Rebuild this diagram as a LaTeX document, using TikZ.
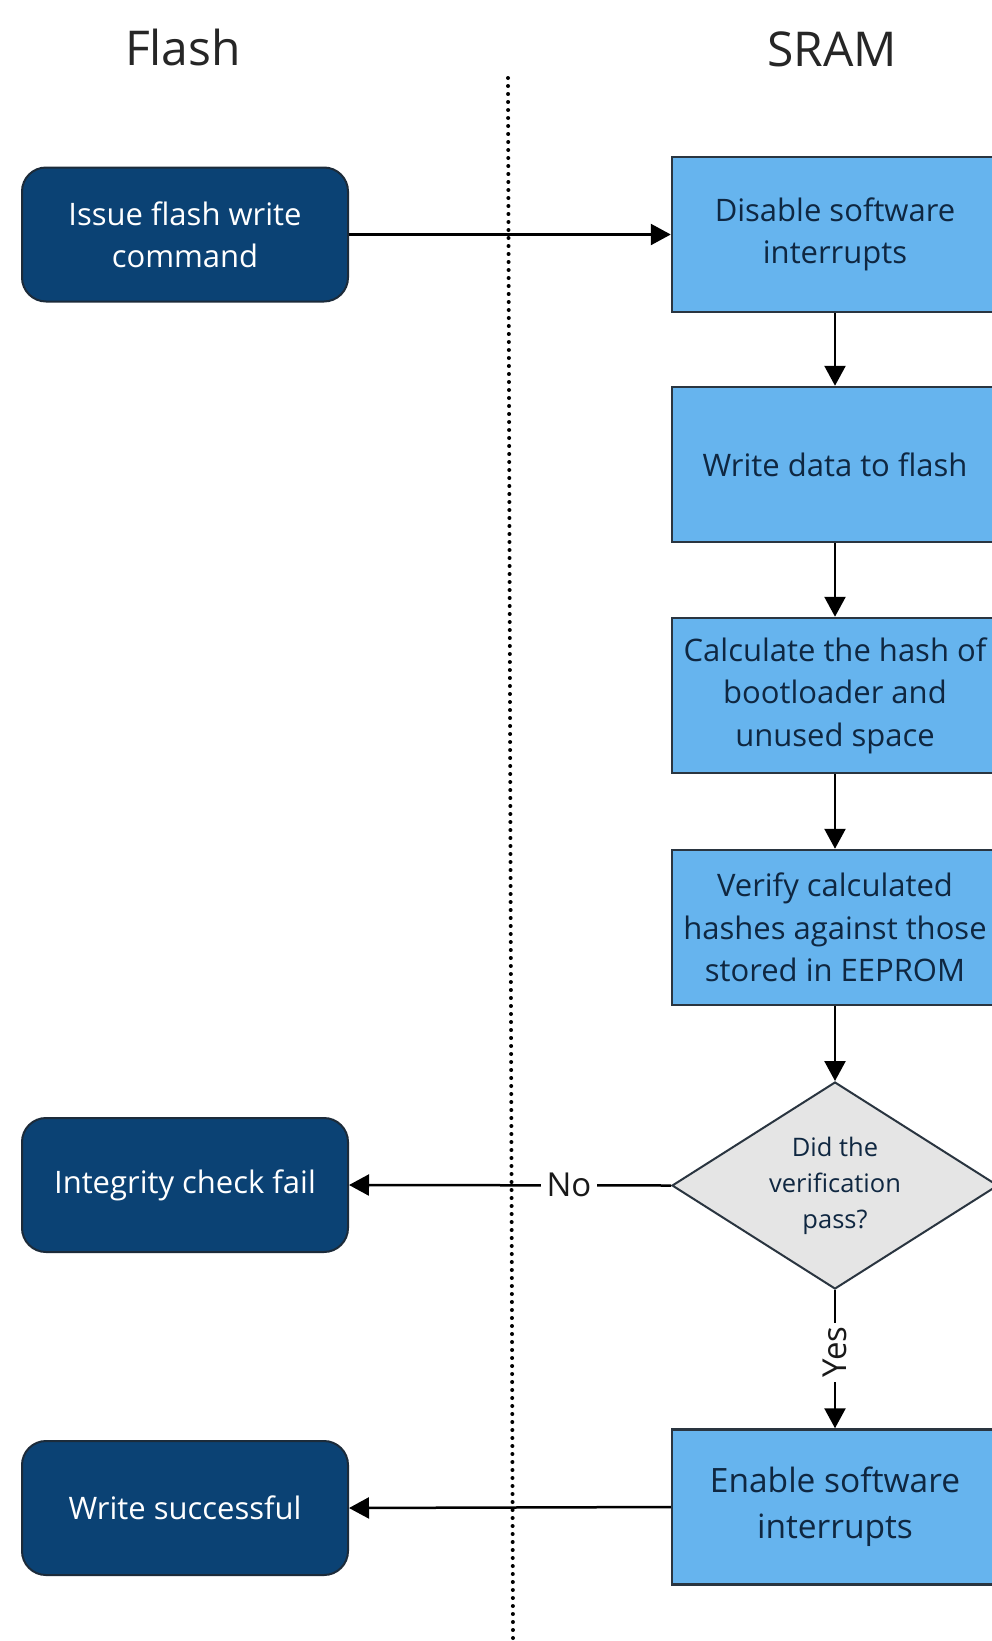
\documentclass[tikz,border=0pt]{standalone}
\usepackage{fontspec}
\setmainfont{Open Sans}
\usetikzlibrary{shapes.geometric,arrows.meta}
\definecolor{darkbox}{HTML}{0B4274}
\definecolor{darkedge}{HTML}{1C2B3A}
\definecolor{lightbox}{HTML}{66B4EE}
\definecolor{lightedge}{HTML}{2A3540}
\definecolor{navytext}{HTML}{0F2741}
\definecolor{diafill}{HTML}{E5E5E5}
\begin{document}
\begin{tikzpicture}[x=1pt,y=-1pt,
  flashbox/.style={rectangle, rounded corners=24pt, draw=darkedge, line width=2pt, fill=darkbox, text=white,
    minimum width=326pt, minimum height=134pt, align=center, inner sep=0pt, font=\fontsize{31}{42}\selectfont},
  srambox/.style={rectangle, draw=lightedge, line width=2.5pt, fill=lightbox, text=navytext,
    minimum width=326pt, minimum height=155pt, align=center, inner sep=0pt, font=\fontsize{31}{42.5}\selectfont},
  decision/.style={diamond, draw=lightedge, line width=2pt, fill=diafill, text=navytext, aspect=1.575,
    minimum width=326pt, minimum height=207pt, inner sep=0pt, align=center, font=\fontsize{25.5}{36}\selectfont},
  flow/.style={line width=2.5pt, -{Triangle[length=20pt,width=21pt]}},
  lbl/.style={fill=white, inner sep=6pt, text=black!90, font=\fontsize{33}{36}\selectfont},
  title/.style={font=\fontsize{48}{50}\selectfont, text=black!85},
  dotline/.style={line width=4pt, line cap=round, dash pattern=on 0pt off 8pt, black}
]
\useasboundingbox[fill=white] (0,0) rectangle (992,1641);

\node[title] (tflash) at (183,47) {Flash};
\node[title] (tsram) at (832,49) {SRAM};

\coordinate (dtop) at (508,78);
\coordinate (dbot) at (513,1641);
\draw[dotline] (dtop) -- (dbot);

\node[flashbox] (issue) at (185,234.5) {Issue flash write\\command};
\node[flashbox] (fail) at (185,1185) {Integrity check fail};
\node[flashbox] (succ) at (185,1508) {Write successful};

\node[srambox] (disable) at (835,234.5) {Disable software\\interrupts};
\node[srambox] (write) at (835,464.5) {Write data to flash};
\node[srambox] (calc) at (835,695.5) {Calculate the hash of\\bootloader and\\unused space};
\node[srambox] (verify) at (835,927.5) {Verify calculated\\hashes against those\\stored in EEPROM};
\node[decision] (dec) at (835,1185.5) {Did the\\verification\\pass?};
\node[srambox, font=\fontsize{33.5}{46}\selectfont] (enable) at (835,1507) {Enable software\\interrupts};

\draw[flow] (issue.east) -- (disable.west);
\draw[flow] (disable.south) -- (write.north);
\draw[flow] (write.south) -- (calc.north);
\draw[flow] (calc.south) -- (verify.north);
\draw[flow] (verify.south) -- (dec.north);
\draw[flow] (dec.west) -- node[lbl, pos=0.317] {No} (fail.east);
\draw[flow] (dec.south) -- node[lbl, pos=0.45, rotate=90, inner sep=4pt] {Yes} (enable.north);
\draw[flow] (enable.west) -- (succ.east);
\end{tikzpicture}
\end{document}
